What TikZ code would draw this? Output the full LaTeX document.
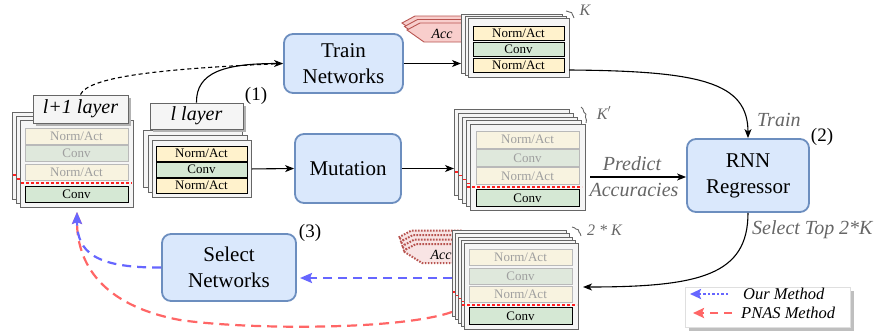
\documentclass[tikz,border=0pt]{standalone}
\usepackage{fontspec}
\setmainfont{Liberation Serif}
\usetikzlibrary{arrows.meta,decorations.pathreplacing,shadows}
\definecolor{bfill}{HTML}{DAE8FC}
\definecolor{bdraw}{HTML}{6C8EBF}
\definecolor{cfill}{HTML}{F5F5F5}
\definecolor{cdraw}{HTML}{666666}
\definecolor{nafill}{HTML}{FFF2CC}
\definecolor{cvfill}{HTML}{D5E8D4}
\definecolor{nafade}{HTML}{F8F3E0}
\definecolor{cvfade}{HTML}{DFE8DC}
\definecolor{accfill}{HTML}{F8CECC}
\definecolor{accdraw}{HTML}{B85450}
\definecolor{accfade}{HTML}{F8E4E4}
\definecolor{ourblue}{HTML}{6666FF}
\definecolor{pnasred}{HTML}{FF6666}
\definecolor{lblgray}{HTML}{666666}
\definecolor{cutred}{HTML}{FF2222}
\tikzset{
  card/.style={draw=cdraw, fill=cfill, line width=0.9pt, anchor=north west, inner sep=0pt},
  bbox/.style={draw=bdraw, fill=bfill, line width=1.8pt, rounded corners=9pt, align=center,
    font=\fontsize{21}{26}\selectfont, inner sep=0pt},
  rowbase/.style={draw=black, line width=0.9pt, inner sep=0pt, font=\fontsize{13}{13}\selectfont},
  na/.style={rowbase, fill=nafill},
  cv/.style={rowbase, fill=cvfill},
  naf/.style={rowbase, fill=nafade, draw=gray!55, text=gray!75},
  cvf/.style={rowbase, fill=cvfade, draw=gray!55, text=gray!75},
  laybox/.style={draw=cdraw, fill=cfill, line width=0.9pt, inner sep=0pt,
    font=\itshape\fontsize{20}{20}\selectfont,
    drop shadow={shadow xshift=3pt, shadow yshift=-3pt, fill=gray!60, opacity=1}},
  lbl/.style={font=\itshape\fontsize{20}{20}\selectfont, text=lblgray, inner sep=0pt},
  klbl/.style={font=\itshape\fontsize{16}{16}\selectfont, text=lblgray, inner sep=0pt},
  numlbl/.style={font=\fontsize{19}{19}\selectfont, inner sep=0pt},
  acclbl/.style={font=\itshape\fontsize{14}{14}\selectfont, inner sep=0pt},
  reddash/.style={draw=cutred, dash pattern=on 3pt off 2pt, line width=1.1pt},
  arr/.style={line width=1.1pt, -{Stealth[length=9pt,width=7pt,inset=2.5pt]}},
  accst/.style={draw=accdraw, fill=accfill, line width=0.9pt},
  accdot/.style={draw=accdraw, fill=accfade, line width=2pt, dash pattern=on 1.6pt off 1.4pt},
  kbrace/.style={draw=lblgray, line width=0.9pt, decorate, decoration={brace, amplitude=2.5pt}},
  bluearr/.style={draw=ourblue, line width=2.2pt, dash pattern=on 9pt off 6pt,
    -{Stealth[length=12pt,width=10pt,inset=2pt]}},
  redarr/.style={draw=pnasred, line width=2.2pt, dash pattern=on 10pt off 6pt,
    -{Stealth[length=12pt,width=10pt,inset=2pt]}},
}
\begin{document}
\begin{tikzpicture}[x=1pt,y=-1pt]
\useasboundingbox (0,0) rectangle (884,330);

% ---------- left stack: l+1 layer ----------
\foreach \k in {2,1} {
  \node[card, minimum width=113pt, minimum height=87pt] (lAc\k) at (20-4*\k,120-4*\k) {};
  \draw[reddash] (20-4*\k+1,183-4*\k) -- (20-4*\k+110,183-4*\k);
}
\node[card, minimum width=113pt, minimum height=87pt] (lAf) at (20,120) {};
\node[naf, minimum width=103pt, minimum height=16pt] (lAr1) at (76.5,136) {Norm/Act};
\node[cvf, minimum width=103pt, minimum height=16pt] (lAr2) at (76.5,153.5) {Conv};
\node[naf, minimum width=103pt, minimum height=16pt] (lAr3) at (76.5,172) {Norm/Act};
\draw[reddash] (21,183) -- (132,183);
\node[cv, minimum width=103pt, minimum height=16pt] (lAr4) at (76.5,194) {Conv};
\node[laybox, minimum width=95pt, minimum height=28pt] (lAlab) at (80.5,109) {l+1 layer};

% ---------- l layer stack ----------
\foreach \k in {2,1} {
  \node[card, minimum width=99pt, minimum height=57pt] (lBc\k) at (152-4.5*\k,140-5*\k) {};
}
\node[card, minimum width=99pt, minimum height=57pt] (lBf) at (152,140) {};
\node[na, minimum width=91pt, minimum height=15pt] (lBr1) at (201.5,153.5) {Norm/Act};
\node[cv, minimum width=91pt, minimum height=15pt] (lBr2) at (201.5,169.5) {Conv};
\node[na, minimum width=91pt, minimum height=15pt] (lBr3) at (201.5,185.5) {Norm/Act};
\node[laybox, minimum width=93pt, minimum height=26pt] (lBlab) at (196.5,116) {l layer};
\node[numlbl] (n1) at (256,96) {(1)};

% ---------- blue boxes ----------
\node[bbox, minimum width=119pt, minimum height=59pt] (train) at (343.5,63.5) {Train\\Networks};
\node[bbox, minimum width=106pt, minimum height=69pt] (mut) at (348,168.5) {Mutation};
\node[bbox, minimum width=122pt, minimum height=73pt] (rnn) at (748,175.5) {RNN\\Regressor};
\node[bbox, minimum width=134pt, minimum height=67pt] (sel) at (229,267.5) {Select\\Networks};
\node[numlbl] (n2) at (822,137) {(2)};
\node[numlbl] (n3) at (310,233) {(3)};

% ---------- top stack (trained) ----------
\foreach \s in {2,1,0} {
  \draw[accst, shift={(-2.5*\s,-3.5*\s)}] (470,23) -- (420,23) -- (407,30) -- (424,42) -- (470,42) -- cycle;
}
\node[acclbl] (accT) at (442,34) {Acc};
\foreach \k in {2,1} {
  \node[card, minimum width=101pt, minimum height=59pt] (tSc\k) at (468-3.5*\k,18-2*\k) {};
}
\node[card, minimum width=101pt, minimum height=59pt] (tSf) at (468,18) {};
\node[na, minimum width=91pt, minimum height=14pt] (tSr1) at (518.5,33) {Norm/Act};
\node[cv, minimum width=91pt, minimum height=14pt] (tSr2) at (518.5,49) {Conv};
\node[na, minimum width=91pt, minimum height=14pt] (tSr3) at (518.5,65) {Norm/Act};
\coordinate (kb1) at (566,11);
\coordinate (kb2) at (574,18);
\draw[kbrace] (kb1) -- (kb2);
\node[klbl] (kT) at (585,10) {K};

% ---------- middle stack (K') ----------
\foreach \k in {4,3,2,1} {
  \node[card, minimum width=115pt, minimum height=86pt] (mSc\k) at (470-4*\k,124-3.75*\k) {};
  \draw[reddash] (470-4*\k+1,187-3.75*\k) -- (470-4*\k+112,187-3.75*\k);
}
\node[card, minimum width=115pt, minimum height=86pt] (mSf) at (470,124) {};
\node[naf, minimum width=103pt, minimum height=17pt] (mSr1) at (527.5,139.5) {Norm/Act};
\node[cvf, minimum width=103pt, minimum height=17pt] (mSr2) at (527.5,158) {Conv};
\node[naf, minimum width=103pt, minimum height=17pt] (mSr3) at (527.5,176) {Norm/Act};
\draw[reddash] (467,187) -- (582,187);
\node[cv, minimum width=103pt, minimum height=17pt] (mSr4) at (527.5,198) {Conv};
\coordinate (kb3) at (581,107);
\coordinate (kb4) at (586,123);
\draw[kbrace] (kb3) -- (kb4);
\node[klbl] (kM) at (604,113) {K$'$};

% ---------- bottom stack (2*K) ----------
\foreach \s in {3,2,1,0} {
  \draw[accdot, shift={(-1.5*\s,-4.5*\s)}] (466,244) -- (416,244) -- (403,251) -- (422,263) -- (466,263) -- cycle;
}
\node[acclbl] (accB) at (441,255) {Acc};
\foreach \k in {4,3,2,1} {
  \node[card, minimum width=114pt, minimum height=86pt] (bSc\k) at (464-3*\k,243-3.25*\k) {};
  \draw[reddash] (464-3*\k+1,305-3.25*\k) -- (464-3*\k+111,305-3.25*\k);
}
\node[card, minimum width=114pt, minimum height=86pt] (bSf) at (464,243) {};
\node[naf, minimum width=103pt, minimum height=16.5pt] (bSr1) at (520.5,257.5) {Norm/Act};
\node[cvf, minimum width=103pt, minimum height=16.5pt] (bSr2) at (520.5,276.5) {Conv};
\node[naf, minimum width=103pt, minimum height=16.5pt] (bSr3) at (520.5,294.5) {Norm/Act};
\draw[reddash] (462,305) -- (577,305);
\node[cv, minimum width=103pt, minimum height=16.5pt] (bSr4) at (520.5,316) {Conv};
\coordinate (kb5) at (572,227);
\coordinate (kb6) at (581,236);
\draw[kbrace] (kb5) -- (kb6);
\node[klbl, anchor=west] (kB) at (587,230) {2 * K};

% ---------- black connectors ----------
\draw[line width=1.1pt, dash pattern=on 4pt off 3pt] (lAlab.north) .. controls (88,78) and (150,69) .. (train.west);
\draw[arr] (lBlab.north) .. controls (196,72) and (225,63.5) .. (train.west);
\draw[arr] (train.east) -- (tSc2.west |- train.east);
\coordinate (tsout) at (569,70);
\draw[arr] (tsout) .. controls (700,71) and (748,82) .. (rnn.north);
\node[lbl, anchor=west] (trainlbl) at (757,120) {Train};
\draw[arr] (lBf.east) -- (mut.west);
\draw[arr] (mut.east) -- (mSc4.west |- mut.east);
\coordinate (msout) at (590,177);
\draw[arr] (msout) -- (rnn.west |- msout);
\node[lbl] (pred) at (632,164) {Predict};
\node[lbl] (accu) at (634,190) {Accuracies};
\coordinate (bsin) at (583,287);
\draw[arr] (rnn.south) .. controls (748,275) and (700,287) .. (bsin);
\node[lbl, anchor=west] (sellbl) at (752,230) {Select Top 2*K};

% ---------- coloured feedback ----------
\coordinate (fbtop) at (77,212);
\coordinate (redstart) at (452,312);
\coordinate (bluestart) at (452,278);
\coordinate (selin) at (300,278);
\draw[redarr] (redstart) .. controls (400,330) and (250,330) .. (180,320)
   .. controls (100,305) and (77,262) .. (fbtop);
\draw[bluearr] (sel.west) .. controls (95,268) and (77,252) .. (fbtop);
\draw[bluearr] (bluestart) -- (selin);

% ---------- legend ----------
\node[draw=gray!25, fill=white, line width=0.6pt, minimum width=165pt, minimum height=40pt, inner sep=0pt,
  drop shadow={shadow xshift=4pt, shadow yshift=-4pt, fill=gray!50, opacity=1}] (leg) at (767.5,307) {};
\coordinate (lg1a) at (728,294);
\coordinate (lg1b) at (690,294);
\coordinate (lg2a) at (732,313);
\coordinate (lg2b) at (693,313);
\draw[draw=ourblue, line width=2.5pt, dash pattern=on 2.5pt off 2pt, -{Stealth[length=11pt,width=10pt,inset=2pt]}] (lg1a) -- (lg1b);
\draw[draw=pnasred, line width=2.5pt, dash pattern=on 8pt off 6pt, -{Stealth[length=11pt,width=10pt,inset=2pt]}] (lg2a) -- (lg2b);
\node[font=\itshape\fontsize{16.5}{16.5}\selectfont, anchor=west, inner sep=0pt] (lgt1) at (743,294) {Our Method};
\node[font=\itshape\fontsize{16.5}{16.5}\selectfont, anchor=west, inner sep=0pt] (lgt2) at (741,313) {PNAS Method};
\end{tikzpicture}
\end{document}
